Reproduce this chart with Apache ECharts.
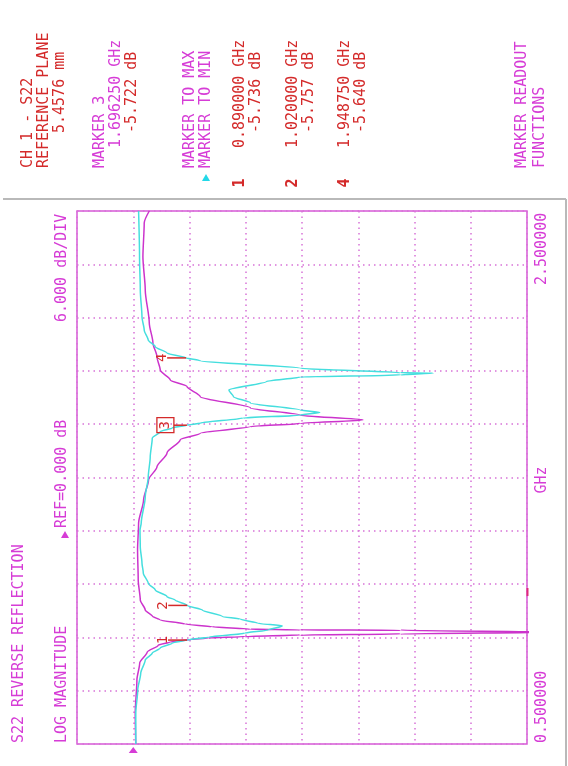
<!DOCTYPE html>
<html>
<head>
<meta charset="utf-8">
<script src="https://cdn.jsdelivr.net/npm/echarts@6/dist/echarts.min.js"></script>
<style>
html, body { margin: 0; padding: 0; background: #ffffff; }
#chart { width: 568px; height: 766px; }
</style>
</head>
<body>
<div id="chart"></div>
<script>
// S22 reverse reflection, log magnitude display.
// Each trace: frequency (GHz) and level (dB).
const magentaFreq = [0.500, 0.616, 0.740, 0.804, 0.845, 0.871, 0.883, 0.892, 0.898, 0.903, 0.909, 0.913, 0.920, 0.927, 0.928, 0.931, 0.940, 0.950, 0.965, 0.980, 1.003, 1.040, 1.115, 1.228, 1.329, 1.416, 1.491, 1.540, 1.592, 1.641, 1.666, 1.691, 1.703, 1.716, 1.734, 1.761, 1.803, 1.841, 1.866, 1.903, 1.953, 2.005, 2.080, 2.204, 2.328, 2.455, 2.500];
const magentaDb   = [-0.27, -0.21, -0.39, -0.69, -1.49, -2.67, -3.95, -6.08, -8.0, -11.9, -17.8, -28.5, -46.0, -28.5, -17.8, -12.5, -8.4, -5.55, -2.88, -2.03, -1.28, -0.75, -0.53, -0.46, -0.57, -1.1, -1.63, -2.53, -3.6, -5.0, -7.15, -12.5, -17.8, -24.5, -17.8, -12.5, -7.15, -5.73, -3.95, -2.88, -2.53, -2.1, -1.71, -1.28, -1.03, -1.17, -1.71];

const cyanFreq = [0.500, 0.616, 0.703, 0.766, 0.815, 0.841, 0.860, 0.879, 0.890, 0.901, 0.916, 0.928, 0.943, 0.953, 0.969, 0.978, 1.003, 1.020, 1.040, 1.053, 1.078, 1.103, 1.142, 1.179, 1.240, 1.303, 1.329, 1.427, 1.502, 1.577, 1.648, 1.672, 1.686, 1.69625, 1.704, 1.723, 1.734, 1.744, 1.753, 1.780, 1.803, 1.828, 1.860, 1.877, 1.885, 1.892, 1.893, 1.910, 1.938, 1.94875, 1.967, 1.991, 2.016, 2.053, 2.103, 2.204, 2.328, 2.500];
const cyanDb   = [-0.27, -0.27, -0.48, -0.80, -1.28, -2.03, -2.88, -4.16, -5.736, -8.0, -11.9, -14.4, -15.9, -13.3, -11.4, -9.5, -7.36, -5.757, -4.48, -3.6, -2.35, -1.6, -1.07, -0.93, -0.75, -0.72, -0.85, -1.28, -1.6, -1.81, -2.03, -2.88, -4.16, -5.722, -7.15, -11.7, -17.8, -19.9, -17.8, -12.5, -10.7, -10.2, -14.2, -17.8, -28.5, -32.0, -28.5, -17.8, -7.15, -5.640, -3.6, -2.35, -1.6, -1.17, -0.93, -0.75, -0.67, -0.57];

// Marker readouts
const markerIds  = ['1', '2', '3', '4'];
const markerFreq = [0.89, 1.02, 1.69625, 1.94875];
const markerDb   = [-5.736, -5.757, -5.722, -5.640];
const activeMarker = '3';

// Scale settings and frequency axis annotation
const refLevel = 0;      // dB
const dbPerDiv = 6;      // dB per division
const freqStart = 0.5;   // GHz
const freqStop = 2.5;    // GHz
const freqTickLabels = ['0.500000', '2.500000'];
const freqUnit = 'GHz';

const MAG = '#d63cd6';
const RED = '#d42a2a';
const GRIDC = '#d873d8';
const FRAME = '#d65ad6';
const TRACE_M = '#cc33cc';
const TRACE_C = '#45dede';
const FONT = '15px "DejaVu Sans Mono", "Liberation Mono", monospace';
const ROT = Math.PI / 2;

function vtext(text, x, y, color, align, font) {
  return {
    type: 'text', x: x, y: y, rotation: ROT, z: 10,
    style: {
      text: text, fill: color, font: font || FONT,
      align: align || 'left', textAlign: align || 'left',
      verticalAlign: 'middle', textVerticalAlign: 'middle'
    }
  };
}
function tri(cx, cy, color) {
  return { type: 'polygon', z: 10, shape: { points: [[cx, cy - 4], [cx - 4, cy + 3], [cx + 4, cy + 3]] }, style: { fill: color } };
}

const graphics = [
  // panel separators
  { type: 'line', z: 1, shape: { x1: 3, y1: 199, x2: 566, y2: 199 }, style: { stroke: '#b9b9b9', lineWidth: 2 } },
  { type: 'line', z: 1, shape: { x1: 566, y1: 199, x2: 566, y2: 766 }, style: { stroke: '#b9b9b9', lineWidth: 2 } },
  // left annotations
  vtext('S22 REVERSE REFLECTION', 19, 743, MAG),
  vtext('LOG MAGNITUDE', 62, 743, MAG),
  tri(65, 535, MAG),
  vtext('REF=' + refLevel.toFixed(3) + ' dB', 62, 528, MAG),
  vtext(dbPerDiv.toFixed(3) + ' dB/DIV', 62, 322, MAG),
  // frequency axis annotations
  vtext(freqTickLabels[0], 542, 743, MAG),
  vtext(freqUnit, 542, 480, MAG, 'center'),
  vtext(freqTickLabels[1], 542, 285, MAG),
  // channel info
  vtext('CH 1 - S22', 28, 168, RED),
  vtext('REFERENCE PLANE', 44, 168, RED),
  vtext('5.4576 mm', 60, 133, RED),
  vtext('MARKER ' + activeMarker, 100, 168, MAG),
  vtext(markerFreq[2].toFixed(6) + ' GHz', 116, 148, MAG),
  vtext(markerDb[2].toFixed(3) + ' dB', 132, 133, RED),
  vtext('MARKER TO MAX', 190, 168, MAG),
  vtext('MARKER TO MIN', 206, 168, MAG),
  tri(206, 178, '#22d8e8'),
  vtext('MARKER READOUT', 522, 168, MAG),
  vtext('FUNCTIONS', 540, 168, MAG)
];
// readouts of the non-active markers
const readCols = [240, 293, 345];
[0, 1, 3].forEach(function (i, k) {
  const cx = readCols[k];
  graphics.push(vtext(markerIds[i], cx, 183, RED, 'center', 'bold 15px "DejaVu Sans Mono", monospace'));
  graphics.push(vtext(markerFreq[i].toFixed(6) + ' GHz', cx, 148, RED));
  graphics.push(vtext(markerDb[i].toFixed(3) + ' dB', cx + 16, 133, RED));
});
// small status tick on the frame
graphics.push({ type: 'rect', z: 10, shape: { x: 526.5, y: 588, width: 2, height: 8 }, style: { fill: '#e02a7a' } });

const chart = echarts.init(document.getElementById('chart'), null, { renderer: 'canvas' });

chart.setOption({
  animation: false,
  backgroundColor: '#ffffff',
  grid: { left: 77, top: 211, width: 450, height: 533, show: true, borderColor: FRAME, borderWidth: 1.5, backgroundColor: 'transparent' },
  xAxis: {
    type: 'value', inverse: true,
    min: refLevel - 7 * dbPerDiv, max: refLevel + dbPerDiv, interval: dbPerDiv,
    axisLine: { show: false }, axisTick: { show: false }, axisLabel: { show: false },
    splitLine: { show: true, lineStyle: { color: GRIDC, width: 1.5, type: [1.5, 4] } }
  },
  yAxis: [
    {
      type: 'value', min: freqStart, max: freqStop,
      axisLine: { show: false }, axisTick: { show: false }, axisLabel: { show: false },
      splitLine: { show: false }
    },
    {
      // ten frequency divisions for the graticule
      type: 'value', min: 0, max: 10, interval: 1,
      axisLine: { show: false }, axisTick: { show: false }, axisLabel: { show: false },
      splitLine: { show: true, lineStyle: { color: GRIDC, width: 1.5, type: [1.5, 4] } }
    }
  ],
  graphic: { elements: graphics },
  series: [
    {
      type: 'line', name: 'magenta', xAxisIndex: 0, yAxisIndex: 0, z: 3,
      data: magentaFreq.map(function (f, i) { return [magentaDb[i], f]; }),
      showSymbol: false, symbol: 'none', clip: true,
      smooth: 0.25, smoothMonotone: 'y',
      lineStyle: { color: TRACE_M, width: 1.5 }
    },
    {
      type: 'line', name: 'cyan', xAxisIndex: 0, yAxisIndex: 0, z: 4,
      data: cyanFreq.map(function (f, i) { return [cyanDb[i], f]; }),
      showSymbol: false, symbol: 'none', clip: true,
      smooth: 0.25, smoothMonotone: 'y',
      lineStyle: { color: TRACE_C, width: 1.5 }
    },
    {
      // marker flags on the cyan trace
      type: 'custom', xAxisIndex: 0, yAxisIndex: 0, z: 6,
      data: markerIds.map(function (id, i) { return [markerDb[i], markerFreq[i]]; }),
      renderItem: function (params, api) {
        const p = api.coord([api.value(0), api.value(1)]);
        const id = markerIds[params.dataIndex];
        const active = id === activeMarker;
        const lineStart = active ? p[0] - 13 : p[0] - 19;
        const labelX = active ? p[0] - 21.5 : p[0] - 24;
        const children = [
          { type: 'line', shape: { x1: lineStart, y1: p[1], x2: p[0], y2: p[1] }, style: { stroke: RED, lineWidth: 1.5 } },
          { type: 'text', x: labelX, y: p[1], rotation: ROT,
            style: { text: id, fill: RED, font: '14px "DejaVu Sans Mono", monospace', align: 'center', textAlign: 'center', verticalAlign: 'middle', textVerticalAlign: 'middle' } }
        ];
        if (active) {
          children.push({ type: 'rect', shape: { x: p[0] - 30, y: p[1] - 7.5, width: 17, height: 15 }, style: { stroke: RED, fill: 'rgba(0,0,0,0)', lineWidth: 1.3 } });
        }
        return { type: 'group', children: children };
      }
    },
    {
      // reference position indicator under the graticule
      type: 'custom', xAxisIndex: 0, yAxisIndex: 0, z: 6, clip: false,
      data: [[refLevel, freqStart]],
      renderItem: function (params, api) {
        const p = api.coord([api.value(0), api.value(1)]);
        return { type: 'polygon', shape: { points: [[p[0], p[1] + 3], [p[0] - 4.5, p[1] + 9], [p[0] + 4.5, p[1] + 9]] }, style: { fill: MAG } };
      }
    }
  ]
});
</script>
</body>
</html>
